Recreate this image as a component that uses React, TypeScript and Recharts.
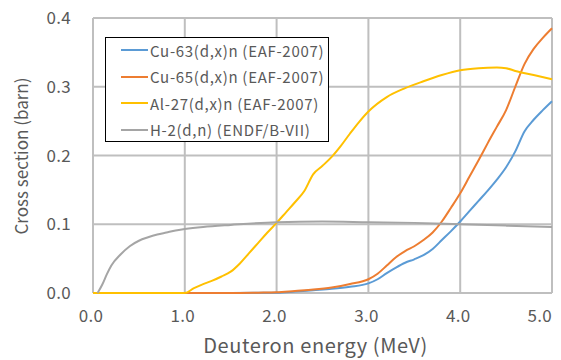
import React from 'react';
import { LineChart, Line, CartesianGrid, XAxis, YAxis, Legend } from 'recharts';

const cu63Energy = [0, 1.0, 1.5, 2.0, 2.2, 2.4, 2.6, 2.8, 3.0, 3.1, 3.2, 3.3, 3.4, 3.5, 3.6, 3.7, 3.8, 3.9, 4.0, 4.1, 4.2, 4.3, 4.4, 4.5, 4.6, 4.7, 4.8, 4.9, 5.0];
const cu63Xs = [0, 0, 0, 0.0005, 0.002, 0.004, 0.006, 0.009, 0.014, 0.02, 0.029, 0.037, 0.044, 0.049, 0.055, 0.064, 0.077, 0.09, 0.104, 0.119, 0.134, 0.149, 0.165, 0.183, 0.206, 0.235, 0.252, 0.266, 0.279];

const cu65Energy = [0, 1.0, 1.5, 1.8, 2.0, 2.2, 2.4, 2.6, 2.8, 3.0, 3.1, 3.2, 3.3, 3.4, 3.5, 3.6, 3.7, 3.8, 3.9, 4.0, 4.1, 4.2, 4.3, 4.4, 4.5, 4.6, 4.7, 4.8, 4.9, 5.0];
const cu65Xs = [0, 0, 0, 0.0005, 0.001, 0.003, 0.005, 0.008, 0.013, 0.02, 0.028, 0.04, 0.052, 0.061, 0.068, 0.077, 0.088, 0.104, 0.124, 0.145, 0.169, 0.193, 0.218, 0.242, 0.266, 0.3, 0.333, 0.355, 0.371, 0.385];

const al27Energy = [0, 0.5, 1.0, 1.1, 1.2, 1.3, 1.4, 1.5, 1.6, 1.7, 1.8, 1.9, 2.0, 2.1, 2.2, 2.3, 2.4, 2.5, 2.6, 2.7, 2.8, 2.9, 3.0, 3.2, 3.4, 3.6, 3.8, 4.0, 4.2, 4.4, 4.5, 4.6, 4.8, 5.0];
const al27Xs = [0, 0, 0, 0.007, 0.013, 0.018, 0.024, 0.031, 0.043, 0.058, 0.073, 0.088, 0.102, 0.117, 0.132, 0.148, 0.173, 0.185, 0.198, 0.214, 0.232, 0.249, 0.264, 0.285, 0.298, 0.308, 0.317, 0.324, 0.327, 0.328, 0.327, 0.323, 0.317, 0.311];

const h2Energy = [0.05, 0.1, 0.15, 0.2, 0.3, 0.4, 0.5, 0.6, 0.7, 0.8, 0.9, 1.0, 1.2, 1.5, 2.0, 2.5, 3.0, 3.5, 4.0, 4.5, 5.0];
const h2Xs = [0, 0.012, 0.027, 0.04, 0.056, 0.068, 0.076, 0.081, 0.085, 0.088, 0.091, 0.093, 0.096, 0.099, 0.103, 0.104, 0.103, 0.102, 0.1, 0.098, 0.096];

const seriesNames = ['Cu-63(d,x)n (EAF-2007)', 'Cu-65(d,x)n (EAF-2007)', 'Al-27(d,x)n (EAF-2007)', 'H-2(d,n) (ENDF/B-VII)'];
const seriesColors = ['#5B9BD5', '#ED7D31', '#FFC000', '#A5A5A5'];

const xTicks = [0, 1, 2, 3, 4, 5];
const yTicks = [0, 0.1, 0.2, 0.3, 0.4];

const toPoints = (es: number[], ys: number[]) => es.map((x, i) => ({ x, y: ys[i] }));

const series = [
  toPoints(cu63Energy, cu63Xs),
  toPoints(cu65Energy, cu65Xs),
  toPoints(al27Energy, al27Xs),
  toPoints(h2Energy, h2Xs),
];

const font = '"Noto Sans CJK JP", "Noto Sans", sans-serif';
const textColor = '#595959';

// last label is pulled inside the chart edge, like the original
const XTick = (props: any) => {
  const { x, y, payload } = props;
  const last = payload.value === 5;
  return (
    <text
      x={last ? 552 : x - 2}
      y={y}
      dy="0.71em"
      textAnchor={last ? 'end' : 'middle'}
      fill={textColor}
      fontSize={17}
      fontFamily={font}
      letterSpacing={0.3}
    >
      {payload.value.toFixed(1)}
    </text>
  );
};

const LegendBox = () => (
  <div
    style={{
      width: 224,
      height: 105,
      boxSizing: 'border-box',
      border: '1px solid #000',
      background: '#fff',
      fontFamily: font,
      fontSize: 15,
      letterSpacing: 0.7,
      color: textColor,
    }}
  >
    {seriesNames.map((name, i) => (
      <div key={name} style={{ display: 'flex', alignItems: 'center', height: 26.5, marginTop: i === 0 ? -1 : 0 }}>
        <span style={{ display: 'inline-block', width: 27, height: 2, background: seriesColors[i], marginLeft: 15, marginRight: 2 }} />
        <span style={{ whiteSpace: 'nowrap' }}>{name}</span>
      </div>
    ))}
  </div>
);

const App: React.FC = () => (
  <div style={{ position: 'absolute', left: 0, top: 0 }}>
    <LineChart width={561} height={360} margin={{ top: 18, right: 9, bottom: 7, left: 33 }}>
      <CartesianGrid stroke="#bfbfbf" strokeWidth={2} horizontal vertical />
      <XAxis
        type="number"
        dataKey="x"
        domain={[0, 5]}
        ticks={xTicks}
        axisLine={false}
        tickLine={false}
        tickSize={0}
        tickMargin={17}
        height={60}
        tick={<XTick />}
        label={{
          value: 'Deuteron energy (MeV)',
          position: 'insideBottom',
          offset: 0,
          dx: -7,
          fill: textColor,
          fontSize: 20,
          letterSpacing: 0.6,
          fontFamily: font,
        }}
      />
      <YAxis
        type="number"
        domain={[0, 0.4]}
        ticks={yTicks}
        tickFormatter={(v: number) => v.toFixed(1)}
        axisLine={false}
        tickLine={false}
        tickSize={0}
        tickMargin={22}
        width={60}
        tick={{ fill: textColor, fontSize: 17, fontFamily: font, letterSpacing: 0.3 }}
        label={{
          content: () => (
            <text
              x={20}
              y={156}
              transform="rotate(-90 20 156)"
              textAnchor="middle"
              dominantBaseline="central"
              fill={textColor}
              fontSize={17}
              fontFamily={font}
            >
              Cross section (barn)
            </text>
          ),
        }}
      />
      <Legend
        layout="vertical"
        align="center"
        verticalAlign="middle"
        wrapperStyle={{ left: 105, top: 37, width: 224, height: 105 }}
        content={() => <LegendBox />}
      />
      {series.map((pts, i) => (
        <Line
          key={seriesNames[i]}
          data={pts}
          dataKey="y"
          name={seriesNames[i]}
          type="monotone"
          stroke={seriesColors[i]}
          strokeWidth={2}
          dot={false}
          isAnimationActive={false}
        />
      ))}
    </LineChart>
  </div>
);

export default App;
